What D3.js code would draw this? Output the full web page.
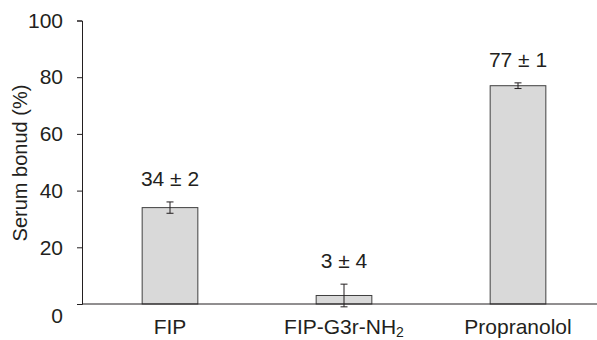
<!DOCTYPE html>
<html>
<head>
<meta charset="utf-8">
<script src="https://cdn.jsdelivr.net/npm/d3@7"></script>
<style>
  body { margin: 0; background: #fff; }
  text { font-family: "Liberation Sans", Arial, sans-serif; fill: #231f20; }
</style>
</head>
<body>
<div id="chart"></div>
<script>
const categories = ['FIP', 'FIP-G3r-NH2', 'Propranolol'];
const means = [34, 3, 77];
const errors = [2, 4, 1];
const valueLabels = ['34 ± 2', '3 ± 4', '77 ± 1'];
const yTicks = [0, 20, 40, 60, 80, 100];

const width = 597;
const height = 340;

const svg = d3.select('#chart')
  .append('svg')
  .attr('width', width)
  .attr('height', height);

const x = d3.scaleBand()
  .domain(categories)
  .range([83, 605])
  .paddingInner(0.68)
  .paddingOuter(0.34);

const y = d3.scaleLinear()
  .domain([0, 100])
  .range([304, 20.5]);

// y axis
const yAxis = svg.append('g')
  .attr('transform', 'translate(82,0)')
  .call(d3.axisLeft(y).tickValues(yTicks).tickSizeOuter(0).tickSize(5).tickPadding(14));
yAxis.select('.domain').attr('stroke', '#231f20');
yAxis.selectAll('.tick line').attr('stroke', '#231f20');
yAxis.selectAll('.tick text')
  .attr('font-size', '21px')
  .attr('font-family', '"Liberation Sans", Arial, sans-serif')
  .attr('fill', '#231f20');
// the zero label sits a bit below the baseline in the original
yAxis.selectAll('.tick').filter(d => d === 0).select('text').attr('y', 12);

svg.append('text')
  .attr('transform', 'translate(27,163) rotate(-90)')
  .attr('text-anchor', 'middle')
  .attr('font-size', '20px')
  .text('Serum bonud (%)');

// bars
svg.selectAll('.bar')
  .data(categories)
  .enter().append('rect')
  .attr('class', 'bar')
  .attr('x', d => x(d))
  .attr('y', (d, i) => y(means[i]))
  .attr('width', x.bandwidth())
  .attr('height', (d, i) => y(0) - y(means[i]))
  .attr('fill', '#d9d9d9')
  .attr('stroke', '#404040')
  .attr('stroke-width', 1);

// x axis line (no ticks)
svg.append('line')
  .attr('x1', 82).attr('x2', width)
  .attr('y1', y(0)).attr('y2', y(0))
  .attr('stroke', '#231f20');

// error bars
const err = svg.selectAll('.err')
  .data(categories)
  .enter().append('g')
  .attr('class', 'err')
  .attr('stroke', '#231f20')
  .attr('stroke-width', 1);
const cx = d => x(d) + x.bandwidth() / 2;
err.append('line')
  .attr('x1', cx).attr('x2', cx)
  .attr('y1', (d, i) => y(means[i] + errors[i]))
  .attr('y2', (d, i) => y(means[i] - errors[i]));
err.append('line')
  .attr('x1', d => cx(d) - 3.5).attr('x2', d => cx(d) + 3.5)
  .attr('y1', (d, i) => y(means[i] + errors[i]))
  .attr('y2', (d, i) => y(means[i] + errors[i]));
err.append('line')
  .attr('x1', d => cx(d) - 3.5).attr('x2', d => cx(d) + 3.5)
  .attr('y1', (d, i) => y(means[i] - errors[i]))
  .attr('y2', (d, i) => y(means[i] - errors[i]));

// value labels
svg.selectAll('.vlabel')
  .data(categories)
  .enter().append('text')
  .attr('class', 'vlabel')
  .attr('x', cx)
  .attr('y', (d, i) => y(means[i] + errors[i]) - 16)
  .attr('text-anchor', 'middle')
  .attr('font-size', '21px')
  .text((d, i) => valueLabels[i]);

// category labels
const cat = svg.selectAll('.clabel')
  .data(categories)
  .enter().append('text')
  .attr('class', 'clabel')
  .attr('x', cx)
  .attr('y', 334)
  .attr('text-anchor', 'middle')
  .attr('font-size', '21px');
cat.each(function (d) {
  const t = d3.select(this);
  if (d === 'FIP-G3r-NH2') {
    t.append('tspan').text('FIP-G3r-NH');
    t.append('tspan').attr('font-size', '14px').attr('dy', 3).text('2');
  } else {
    t.text(d);
  }
});
</script>
</body>
</html>
